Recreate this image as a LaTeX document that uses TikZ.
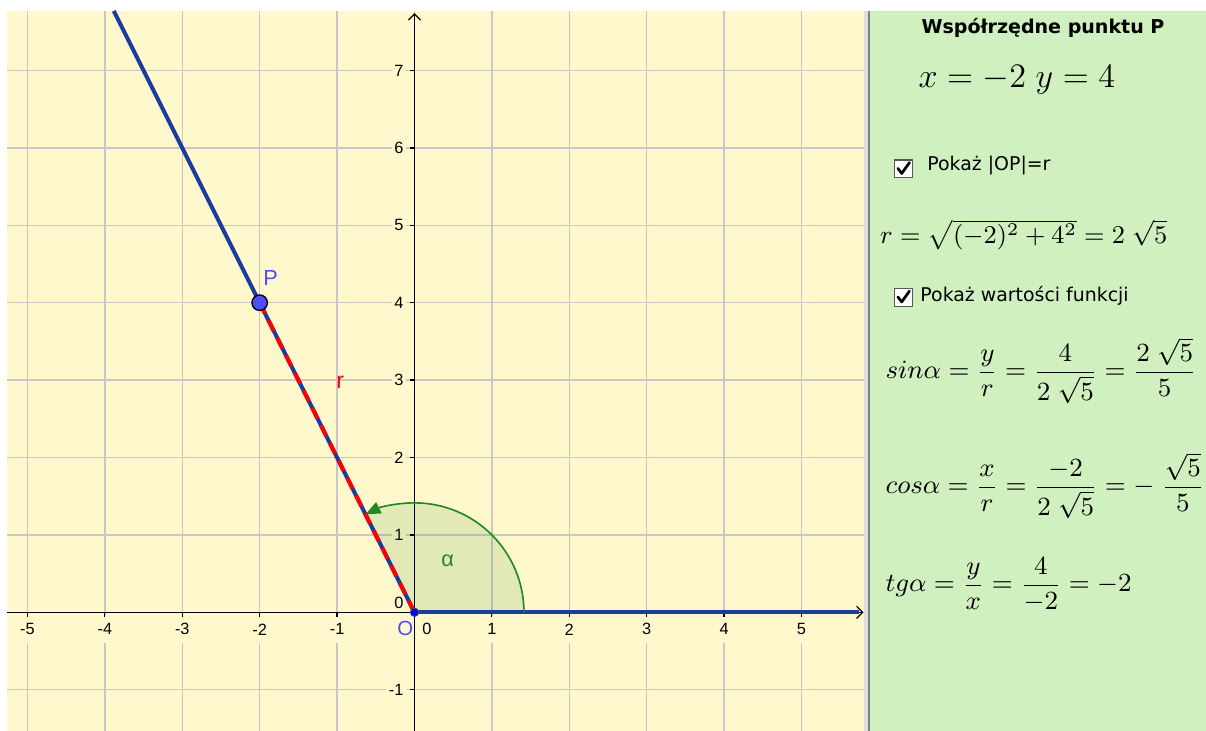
\RequirePackage{fix-cm}
\documentclass[tikz,border=0pt]{standalone}
\usepackage{amsmath}
\usepackage[no-math]{fontspec}
\setmainfont{Liberation Sans}
\newfontfamily\panelfont{DejaVu Sans}
\usepackage{tikz}
\usetikzlibrary{arrows.meta,positioning}

\definecolor{bgyellow}{HTML}{FFF8CD}
\definecolor{panelgreen}{HTML}{D0F0C0}
\definecolor{gridgray}{HTML}{C8C8C8}
\definecolor{rayblue}{HTML}{1A3D9C}
\definecolor{ptblue}{HTML}{4D4DFF}
\definecolor{arcgreen}{HTML}{1F8A1F}

\begin{document}
\begin{tikzpicture}[
    font=\fontsize{6}{7}\selectfont,
    gridline/.style={draw=gridgray, line width=0.5pt},
    axis/.style={line width=0.45pt, -{Straight Barb[length=2.2pt,width=4.5pt]}},
    xlab/.style={fill=bgyellow, inner xsep=1pt, inner ysep=3pt},
    ylab/.style={fill=bgyellow, inner sep=1pt, anchor=east},
    ray/.style={rayblue, line width=1.5pt},
    formula/.style={anchor=base west, inner sep=0pt, font=\fontsize{9.65}{11}\selectfont},
    chkbox/.style={draw=black!65, fill=white, minimum size=0.23cm, inner sep=0pt, line width=0.5pt},
    check/.style={line width=1pt, line cap=round, line join=round},
    optlabel/.style={anchor=base west, inner sep=0pt, font=\panelfont\fontsize{6.95}{8}\selectfont}
  ]

  \useasboundingbox (-5.355,-1.533) rectangle (10.226,7.911);

  % graphics view and side panel
  \fill[bgyellow] (-5.265,-1.533) rectangle (5.81,7.77);
  \fill[gray!25] (5.81,-1.533) rectangle (5.86,7.77);
  \draw[gray, line width=0.6pt] (5.87,-1.533) -- (5.87,7.77);
  \fill[panelgreen] (5.885,-1.533) rectangle (10.226,7.77);

  % grid
  \foreach \x in {-5,...,5} \draw[gridline] (\x,-1.533) -- (\x,7.77);
  \foreach \y in {-1,...,7} \draw[gridline] (-5.265,\y) -- (5.81,\y);

  % axis labels
  \foreach \x in {-5,...,-1,1,2,...,5} \node[xlab] (xl\x) at (\x,-0.22) {\x};
  \foreach \y in {-1,1,2,...,7} \node[ylab] (yl\y) at (-0.1,\y) {\y};
  \node[xlab] (xl0) at (0.16,-0.22) {0};
  \node[ylab] (yl0) at (-0.1,0.12) {0};
  \node[ptblue, font=\fontsize{7.5}{8}\selectfont, inner sep=0pt] (Olab) at (-0.12,-0.21) {O};

  % angle sector
  \fill[arcgreen, fill opacity=0.13] (0,0) -- (1.414,0) arc[start angle=0, end angle=116.565, radius=1.414] -- cycle;

  % axes and ticks
  \draw[axis] (-5.265,0) -- (5.8,0);
  \draw[axis] (0,-1.533) -- (0,7.74);
  \foreach \x in {-5,...,-1,1,2,...,5} \draw[line width=0.45pt] (\x,0) -- (\x,-0.06);
  \foreach \y in {-1,1,2,...,7} \draw[line width=0.45pt] (0,\y) -- (-0.06,\y);

  % rays and segment OP
  \coordinate (O) at (0,0);
  \coordinate (P) at (-2,4);
  \coordinate (Rend) at (-3.885,7.77);
  \coordinate (Xend) at (5.74,0);
  \draw[ray] (O) -- (Rend);
  \draw[ray] (O) -- (Xend);
  \draw[red, line width=1.5pt, dash pattern=on 4.4pt off 2.8pt] (P) -- (O);

  % angle alpha
  \draw[arcgreen, line width=0.6pt, -{Triangle[length=5.5pt,width=4.5pt]}] (1.414,0) arc[start angle=0, end angle=116.565, radius=1.414];

  % points and labels
  \node[circle, fill=ptblue, draw=black, line width=0.5pt, minimum size=0.2cm, inner sep=0pt] (Pdot) at (P) {};
  \node[circle, fill=blue, draw=black!70, line width=0.3pt, minimum size=0.11cm, inner sep=0pt] (Odot) at (O) {};
  \node[ptblue, font=\fontsize{8}{9}\selectfont] (Plab) at (-1.86,4.32) {P};
  \node[red, font=\fontsize{8.5}{9}\selectfont] (rlab) at (-0.96,2.97) {r};
  \node[arcgreen, font=\fontsize{8}{9}\selectfont] (alab) at (0.43,0.67) {α};

  % side panel
  \node[anchor=base, inner sep=0pt, font=\panelfont\bfseries\fontsize{7}{8}\selectfont] (title) at (8.12,7.48) {Współrzędne punktu P};
  \node[formula, font=\fontsize{12.6}{14}\selectfont] (coords) at (6.505,6.786) {$x=-2\ y=4$};

  \node[chkbox] (box1) at (6.32,5.73) {};
  \draw[check] (box1.center) ++(-0.075,0.005) -- ++(0.05,-0.065) -- ++(0.1,0.14);
  \node[optlabel] (opt1) at (6.62,5.714) {Pokaż |OP|=r};

  \node[formula, font=\fontsize{9.4}{11}\selectfont] (rform) at (6.01,4.77) {$r=\sqrt{(-2)^2+4^2}=2\ \sqrt{5}$};

  \node[chkbox] (box2) at (6.32,4.07) {};
  \draw[check] (box2.center) ++(-0.075,0.005) -- ++(0.05,-0.065) -- ++(0.1,0.14);
  \node[optlabel] (opt2) at (6.53,4.013) {Pokaż wartości funkcji};

  \node[formula] (sinform) at (6.08,3.016) {$sin\alpha=\dfrac{y}{r}=\dfrac{4}{2\ \sqrt{5}}=\dfrac{2\ \sqrt{5}}{5}$};
  \node[formula] (cosform) at (6.08,1.53) {$cos\alpha=\dfrac{x}{r}=\dfrac{-2}{2\ \sqrt{5}}=-\ \dfrac{\sqrt{5}}{5}$};
  \node[formula] (tgform) at (6.08,0.266) {$tg\alpha=\dfrac{y}{x}=\dfrac{4}{-2}=-2$};

\end{tikzpicture}
\end{document}
